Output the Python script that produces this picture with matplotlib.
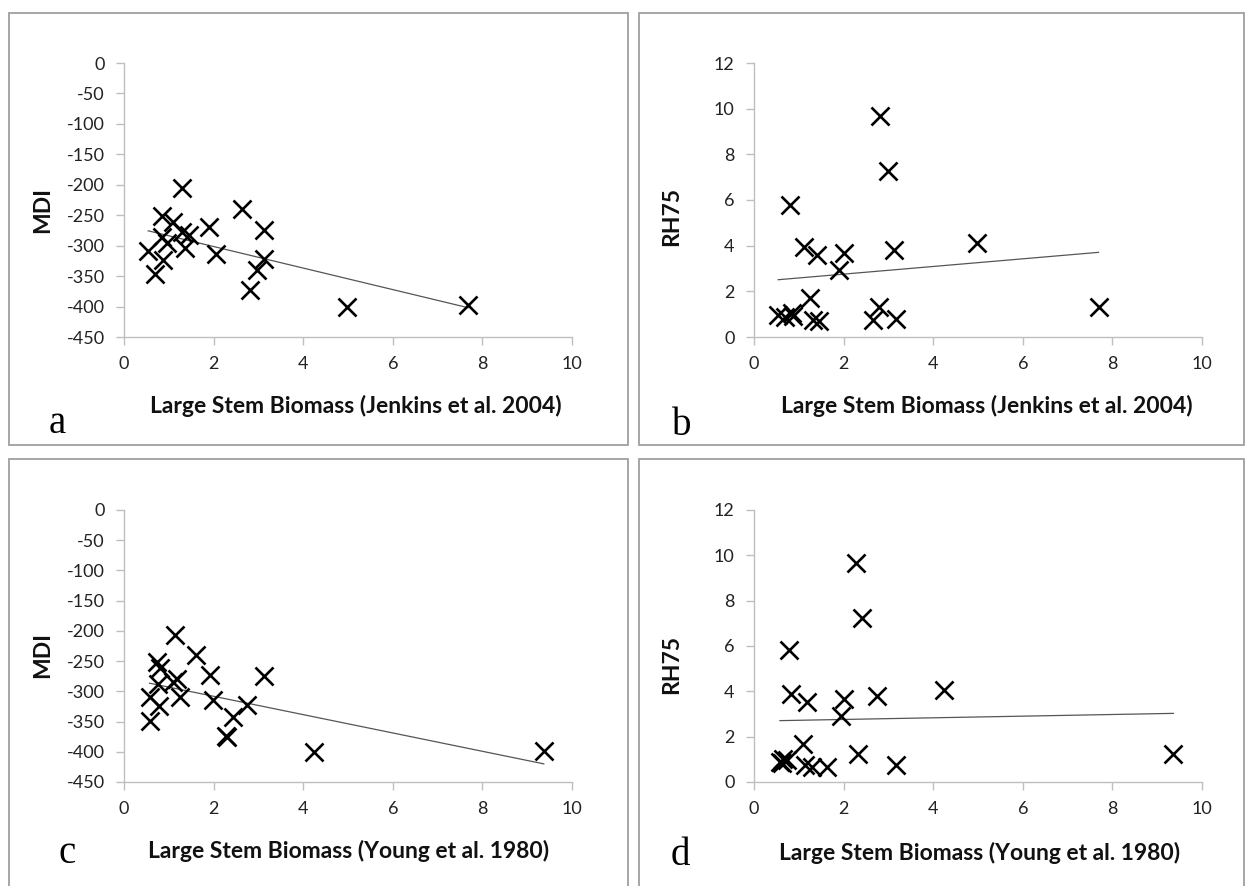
import numpy as np
import matplotlib
matplotlib.use("Agg")
import matplotlib.pyplot as plt
from matplotlib.patches import Rectangle

plt.rcParams["axes.unicode_minus"] = False

# ---------------- data ----------------
jenkins_x_mdi = [1.29, 2.64, 0.84, 1.10, 1.90, 3.13, 1.29, 1.44, 0.84, 1.36,
                 0.54, 2.05, 0.86, 0.95, 3.13, 2.96, 0.69, 2.81, 4.97, 7.68]
mdi_a = [-206, -239, -252, -261, -270, -274, -277, -282, -285, -304,
         -308, -314, -324, -296, -322, -340, -347, -373, -400, -398]

jenkins_x_rh = [2.81, 2.99, 0.80, 1.11, 1.41, 2.01, 3.12, 4.97, 1.90, 1.25,
                2.78, 7.69, 0.54, 0.69, 0.84, 0.88, 1.32, 1.44, 2.66, 3.16]
rh75_b = [9.66, 7.28, 5.78, 3.92, 3.59, 3.66, 3.81, 4.10, 2.93, 1.70,
          1.33, 1.30, 0.96, 0.89, 1.03, 0.90, 0.74, 0.70, 0.74, 0.78]

young_x_mdi = [1.14, 1.61, 0.74, 0.80, 1.92, 3.13, 1.18, 1.10, 0.77, 1.26,
               0.57, 1.98, 0.79, 2.74, 2.43, 0.58, 2.28, 2.30, 4.23, 9.37]
mdi_c = [-207, -240, -251, -262, -273, -275, -279, -284, -288, -309,
         -309, -314, -324, -323, -343, -349, -374, -376, -400, -398]

young_x_rh = [2.27, 2.42, 0.78, 0.83, 1.19, 2.01, 2.75, 4.23, 1.94, 1.10,
              2.32, 9.36, 3.16, 0.58, 0.73, 0.65, 0.62, 1.14, 1.30, 1.62]
rh75_d = [9.68, 7.22, 5.82, 3.90, 3.53, 3.68, 3.78, 4.05, 2.90, 1.69,
          1.25, 1.25, 0.74, 0.89, 0.96, 1.00, 0.82, 0.74, 0.66, 0.66]

x_ticks = [0, 2, 4, 6, 8, 10]
mdi_ticks = [0, -50, -100, -150, -200, -250, -300, -350, -400, -450]
rh_ticks = [0, 2, 4, 6, 8, 10, 12]

xlabel_j = "Large Stem Biomass (Jenkins et al. 2004)"
xlabel_y = "Large Stem Biomass (Young et al. 1980)"
panel_letters = ["a", "b", "c", "d"]

# ---------------- figure ----------------
W, H = 1246, 886
fig = plt.figure(figsize=(W / 100, H / 100), dpi=100)
fig.patch.set_facecolor("white")

SANS = ["Lato", "DejaVu Sans"]
SERIF = ["Liberation Serif", "DejaVu Serif"]
SPINE = "#BFBFBF"


def fx(px):
    return px / W


def fy(py):
    return 1 - py / H


# panel frames
for (x0, y0, x1, y1) in [(9, 13, 628, 445), (639, 13, 1244, 445),
                         (9, 459, 628, 890), (639, 459, 1244, 890)]:
    fig.patches.append(Rectangle((fx(x0), fy(y1)), fx(x1 - x0), (y1 - y0) / H,
                                 transform=fig.transFigure, fill=False,
                                 edgecolor="#A6A6A6", linewidth=1.4))


def make_ax(left, top, right, bottom, xs, ys, ylim, yticks, ylabel, ylab_pos,
            xlabel, xlab_pos, letter, letter_pos):
    ax = fig.add_axes([fx(left), fy(bottom), fx(right - left), (bottom - top) / H])
    ax.set_xlim(0, 10)
    ax.set_ylim(*ylim)
    ax.set_xticks(x_ticks)
    ax.set_yticks(yticks)
    for s in ["top", "right"]:
        ax.spines[s].set_visible(False)
    for s in ["left", "bottom"]:
        ax.spines[s].set_color(SPINE)
        ax.spines[s].set_linewidth(1.0)
    ax.tick_params(axis="both", direction="out", length=6, width=1.0,
                   color=SPINE, labelsize=13, labelcolor="#222222", pad=8)
    for lab in ax.get_xticklabels() + ax.get_yticklabels():
        lab.set_family(SANS)
    ax.patch.set_alpha(0)
    ax.plot(xs, ys, linestyle="none", marker="x", markersize=13,
            markeredgewidth=1.9, color="black", clip_on=False, zorder=3)
    # linear trendline
    k, b = np.polyfit(xs, ys, 1)
    xl = np.array([min(xs), max(xs)])
    ax.plot(xl, k * xl + b, color="#555555", linewidth=0.9, zorder=2)
    fig.text(fx(ylab_pos[0]), fy(ylab_pos[1]), ylabel, rotation=90,
             ha="center", va="center", fontsize=16.5, fontweight="bold",
             family=SANS, color="#111111")
    fig.text(fx(xlab_pos[0]), fy(xlab_pos[1]), xlabel, ha="center",
             va="center", fontsize=16.5, fontweight="bold", family=SANS,
             color="#111111")
    fig.text(fx(letter_pos[0]), fy(letter_pos[1]), letter, ha="center",
             va="baseline", fontsize=28, family=SERIF, color="black")
    return ax


make_ax(124, 63, 572, 337, jenkins_x_mdi, mdi_a, (-450, 0), mdi_ticks,
        "MDI", (43, 210), xlabel_j, (356, 406), panel_letters[0], (57, 433))
make_ax(754, 63, 1202, 337, jenkins_x_rh, rh75_b, (0, 12), rh_ticks,
        "RH75", (672, 217), xlabel_j, (987, 406), panel_letters[1], (682, 435))
make_ax(124, 510, 572, 782, young_x_mdi, mdi_c, (-450, 0), mdi_ticks,
        "MDI", (43, 655), xlabel_y, (349, 851), panel_letters[2], (67, 863))
make_ax(754, 510, 1202, 782, young_x_rh, rh75_d, (0, 12), rh_ticks,
        "RH75", (672, 665), xlabel_y, (980, 853), panel_letters[3], (680, 865))

fig.savefig("out.png", dpi=100, facecolor="white")
